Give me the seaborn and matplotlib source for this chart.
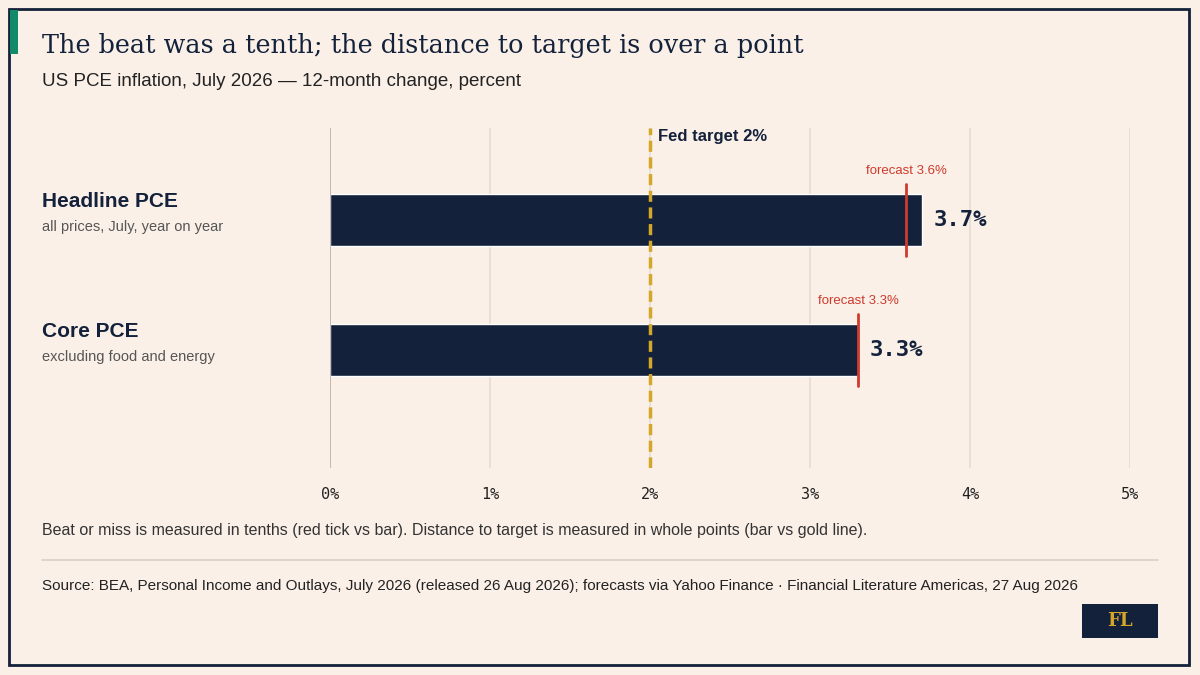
import matplotlib
matplotlib.use("Agg")
import matplotlib.pyplot as plt
import seaborn as sns
import pandas as pd
from matplotlib.patches import Rectangle

categories = ["Headline PCE", "Core PCE"]
subtitles = ["all prices, July, year on year", "excluding food and energy"]
actual = [3.7, 3.3]
forecast = [3.6, 3.3]
target = 2.0
xticks = [0, 1, 2, 3, 4, 5]
xticklabels = ["0%", "1%", "2%", "3%", "4%", "5%"]

BG = "#faf0e8"
NAVY = "#13213a"
RED = "#cf3a2c"
GOLD = "#d4a62a"

sns.set_theme(style="white")
plt.rcParams['font.family'] = ['Liberation Sans', 'DejaVu Sans']

fig = plt.figure(figsize=(12, 6.75), dpi=100, facecolor=BG)
ax = fig.add_axes([0.275, 0.3067, 0.6667, 0.5037])
ax.set_facecolor(BG)

df = pd.DataFrame({"cat": categories, "val": actual})
sns.barplot(data=df, x="val", y="cat", ax=ax, color=NAVY, width=0.4, saturation=1, orient="h")
ax.set_xlim(0, 5)
ax.set_ylim(1.908, -0.708)
ax.set_xlabel(""); ax.set_ylabel("")
ax.set_yticks([])
ax.set_xticks(xticks)
ax.set_xticklabels(xticklabels, family="DejaVu Sans Mono", fontsize=11, color="#222")
ax.tick_params(axis="x", length=0, pad=14)
for s in ax.spines.values():
    s.set_visible(False)
for t in xticks[1:]:
    ax.axvline(t, color="#e6dcd3", lw=1.2, zorder=0)
ax.axvline(0, color="#b9b0a8", lw=1.2, zorder=3)
ax.axvline(target, color=GOLD, lw=2.5, ls=(0, (3.2, 1.6)), zorder=4)
ax.text(target + 0.05, -0.64, "Fed target 2%", fontsize=12, fontweight="bold", color=NAVY, va="center")

for i, (a, f) in enumerate(zip(actual, forecast)):
    ax.plot([f, f], [i - 0.277, i + 0.277], color=RED, lw=2, zorder=5)
    ax.text(f, i - 0.33, f"forecast {f}%", color=RED, fontsize=9.5, ha="center", va="bottom")
    ax.text(max(a, f) + 0.07, i, f"{a}%", family="DejaVu Sans Mono", fontweight="bold",
            fontsize=16, color=NAVY, va="center")
    yfig = 1 - (220 + 130 * i) / 675
    fig.text(42 / 1200, yfig + 0.028, categories[i], fontsize=15, fontweight="bold", color=NAVY, va="center")
    fig.text(42 / 1200, yfig - 0.011, subtitles[i], fontsize=10.5, color="#555", va="center")

# frame and decorations
fig.patches.append(Rectangle((9 / 1200, 1 - 665 / 675), 1180 / 1200, 656 / 675, transform=fig.transFigure,
                             fill=False, ec=NAVY, lw=2))
fig.patches.append(Rectangle((10 / 1200, 1 - 54 / 675), 8 / 1200, 44 / 675, transform=fig.transFigure,
                             fc="#128a6a", ec="none"))
fig.text(42 / 1200, 1 - 45 / 675, "The beat was a tenth; the distance to target is over a point",
         family="DejaVu Serif", fontsize=18.4, color=NAVY, va="center")
fig.text(42 / 1200, 1 - 82 / 675, "US PCE inflation, July 2026 — 12-month change, percent",
         fontsize=13.5, color="#222", va="center")
fig.text(42 / 1200, 1 - 530 / 675,
         "Beat or miss is measured in tenths (red tick vs bar). Distance to target is measured in whole points (bar vs gold line).",
         fontsize=11.5, color="#333", va="center")
fig.add_artist(plt.Line2D([42 / 1200, 1158 / 1200], [1 - 560 / 675] * 2, color="#d8d0c8", lw=1.2))
fig.text(42 / 1200, 1 - 586 / 675,
         "Source: BEA, Personal Income and Outlays, July 2026 (released 26 Aug 2026); forecasts via Yahoo Finance · Financial Literature Americas, 27 Aug 2026",
         fontsize=11, color="#222", va="center")
fig.patches.append(Rectangle((1082 / 1200, 1 - 638 / 675), 76 / 1200, 34 / 675, transform=fig.transFigure,
                             fc=NAVY, ec="none"))
fig.text(1120 / 1200, 1 - 621 / 675, "FL", family="DejaVu Serif", fontweight="bold", fontsize=13,
         color=GOLD, ha="center", va="center")

fig.savefig("out.png", dpi=100, facecolor=BG)
